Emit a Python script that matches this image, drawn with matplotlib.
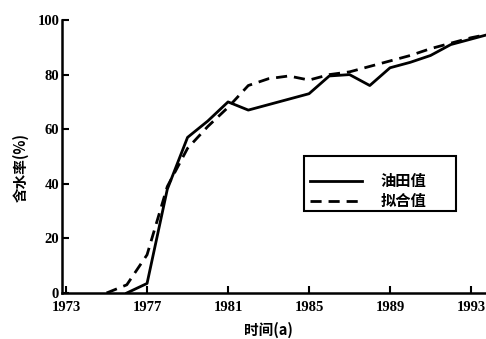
import matplotlib.pyplot as plt
from matplotlib.patches import Rectangle

plt.rcParams['font.family'] = ['Liberation Serif', 'Noto Sans CJK SC']
plt.rcParams['font.weight'] = 'bold'
cjk = ['Noto Sans CJK SC', 'DejaVu Sans']

# 油田实际含水率
years_obs = [1976, 1977, 1978, 1979, 1980, 1981, 1982, 1983, 1984, 1985,
             1986, 1987, 1988, 1989, 1990, 1991, 1992, 1993, 1994]
water_obs = [0, 3.5, 38, 57, 63, 70, 67, 69, 71, 73,
             79.5, 80, 76, 82.5, 84.5, 87, 91, 93, 95]

# 拟合含水率
years_fit = [1975, 1976, 1977, 1978, 1979, 1980, 1981, 1982, 1983, 1984,
             1985, 1986, 1987, 1988, 1989, 1990, 1991, 1992, 1993, 1994]
water_fit = [0, 3, 14, 39, 53, 61, 68, 76, 78.5, 79.5,
             78, 80, 81, 83, 85, 87, 89.5, 91.5, 93.5, 95]

fig = plt.figure(figsize=(4.86, 3.39), dpi=100)
ax = fig.add_axes([0.1276, 0.1357, 0.8724, 0.8053])

ax.plot(years_obs, water_obs, color='black', lw=2.0, label='油田值')
ax.plot(years_fit, water_fit, color='black', lw=2.0, ls=(0, (4, 2.5)),
        label='拟合值')

ax.set_xlim(1972.8, 1993.74)
ax.set_ylim(0, 100)
ax.set_xticks([1973, 1977, 1981, 1985, 1989, 1993])
ax.set_yticks([0, 20, 40, 60, 80, 100])
ax.spines['top'].set_visible(False)
ax.spines['right'].set_visible(False)
ax.spines['left'].set_linewidth(1.8)
ax.spines['bottom'].set_linewidth(1.8)
ax.tick_params(axis='both', direction='in', length=5, width=1.5,
               labelsize=10.5)
ax.tick_params(axis='x', pad=6)
ax.tick_params(axis='y', pad=2)

ax.set_xlabel('时间(a)', fontsize=10.5, fontweight='heavy', family=cjk)
ax.set_ylabel('含水率(%)', fontsize=10.5, fontweight='heavy', family=cjk)
ax.xaxis.set_label_coords(0.486, -0.106)
ax.yaxis.set_label_coords(-0.078, 0.46)

leg = fig.legend(loc='center left', bbox_to_anchor=(310 / 486, 1 - 191 / 339),
                 frameon=False, handlelength=3.4, handletextpad=1.2,
                 labelspacing=0.25, borderpad=0, borderaxespad=0,
                 prop={'family': cjk, 'size': 11, 'weight': 'heavy'})

# 图例外框
fig.patches.append(Rectangle((304 / 486, 1 - 211 / 339), 152 / 486, 55 / 339,
                             transform=fig.transFigure, fill=False,
                             edgecolor='black', lw=1.5))

fig.savefig('out.png', dpi=100)
